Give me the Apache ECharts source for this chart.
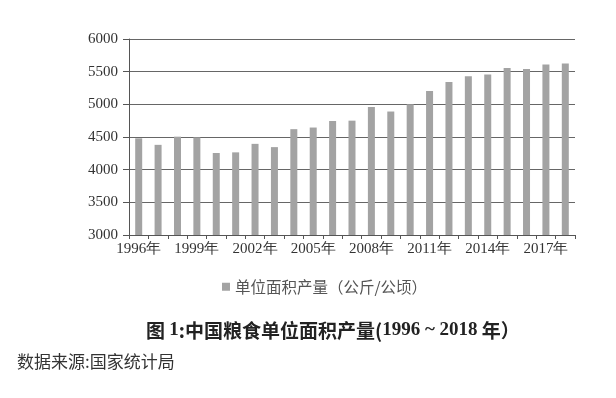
<!DOCTYPE html>
<html>
<head>
<meta charset="utf-8">
<script src="https://cdn.jsdelivr.net/npm/echarts@6/dist/echarts.min.js"></script>
<style>
html, body { margin: 0; padding: 0; background: #fff; }
#chart { width: 616px; height: 398px; }
</style>
</head>
<body>
<div id="chart"></div>
<script>
(function(){

var years = ['1996', '1997', '1998', '1999', '2000', '2001', '2002', '2003', '2004', '2005', '2006', '2007',
	'2008', '2009', '2010', '2011', '2012', '2013', '2014', '2015', '2016', '2017', '2018']
var yieldPerHa = [4480, 4380, 4505, 4495, 4255, 4265, 4395, 4345, 4620, 4645, 4745, 4750,
	4960, 4890, 5000, 5205, 5340, 5430, 5455, 5555, 5540, 5610, 5625]
var seriesName = '单位面积产量（公斤/公顷）'

var serif = '"Liberation Serif", "Times New Roman", serif'
var cjk = '"Noto Sans CJK SC", sans-serif'

var chart = echarts.init(document.getElementById('chart'))

chart.setOption({
	animation: false,
	backgroundColor: '#fff',
	title: [{
		text: '{a|图 }{b|1}{a|:中国粮食单位面积产量(}{b|1996 ~ 2018}{a| 年）}',
		left: 141, top: 316,
		textStyle: {
			rich: {
				a: { fontFamily: cjk, fontWeight: 'bold', fontSize: 19, color: '#222' },
				b: { fontFamily: serif, fontWeight: 'bold', fontSize: 19, color: '#222' }
			}
		}
	}, {
		text: '数据来源:国家统计局',
		left: 12, top: 348,
		textStyle: { fontFamily: cjk, fontWeight: 'normal', fontSize: 17, color: '#333' }
	}],
	legend: {
		left: 222, top: 279,
		padding: 0,
		itemWidth: 8, itemHeight: 8,
		icon: 'rect',
		textStyle: { fontFamily: cjk, fontSize: 15.5, color: '#555' },
		data: [seriesName]
	},
	grid: { left: 129, right: 41, top: 39, bottom: 163, containLabel: false },
	xAxis: {
		type: 'category',
		data: years,
		boundaryGap: true,
		axisLine: { lineStyle: { color: '#555', width: 1 } },
		axisTick: { show: true, length: 4, alignWithLabel: false, interval: 0, lineStyle: { color: '#555' } },
		axisLabel: {
			interval: 2,
			margin: 7,
			fontFamily: serif, fontSize: 15, color: '#333',
			formatter: function(v) { return v + '年' }
		}
	},
	yAxis: {
		type: 'value',
		min: 3000, max: 6000, interval: 500,
		axisLine: { show: true, lineStyle: { color: '#555', width: 1 } },
		axisTick: { show: true, length: 6, lineStyle: { color: '#555' } },
		axisLabel: {
			margin: 11, fontFamily: serif, fontSize: 15, color: '#333',
			formatter: function(v) { return String(v) }
		},
		splitLine: { lineStyle: { color: '#666', width: 1 } }
	},
	series: [{
		name: seriesName,
		type: 'bar',
		barWidth: 7,
		itemStyle: { color: '#a3a3a3' },
		data: yieldPerHa
	}]
})

})()
</script>
</body>
</html>
